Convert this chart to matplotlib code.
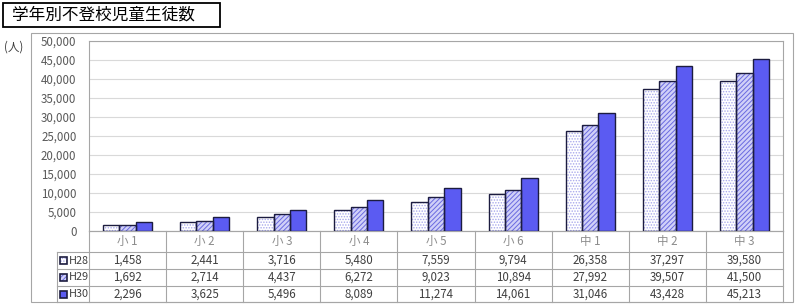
import matplotlib
matplotlib.use("Agg")
import matplotlib.pyplot as plt
from matplotlib.patches import Rectangle
import numpy as np

plt.rcParams['font.family'] = ['Noto Sans CJK JP', 'DejaVu Sans']
plt.rcParams['hatch.linewidth'] = 0.7

title = "学年別不登校児童生徒数"
unit = "(人)"
categories = ["小 1", "小 2", "小 3", "小 4", "小 5", "小 6", "中 1", "中 2", "中 3"]
series_names = ["H28", "H29", "H30"]
h28 = [1458, 2441, 3716, 5480, 7559, 9794, 26358, 37297, 39580]
h29 = [1692, 2714, 4437, 6272, 9023, 10894, 27992, 39507, 41500]
h30 = [2296, 3625, 5496, 8089, 11274, 14061, 31046, 43428, 45213]
series = [h28, h29, h30]
yticks = [0, 5000, 10000, 15000, 20000, 25000, 30000, 35000, 40000, 45000, 50000]

styles = [
    dict(face="white", hatch="......", hcolor="#A8A8EC"),
    dict(face="#D0D0F8", hatch="///////", hcolor="#6A6AE0"),
    dict(face="#5B5BF2", hatch=None, hcolor="#5B5BF2"),
]
edge = "#1C1C40"

W, H = 800, 307
fig = plt.figure(figsize=(8, 3.07), dpi=100)

# overlay in pixel coordinates
ov = fig.add_axes([0, 0, 1, 1], zorder=0)
ov.set_xlim(0, W)
ov.set_ylim(H, 0)
ov.axis("off")

# plot area geometry in pixels
L, R, T, B = 89, 783, 41, 231
ax = fig.add_axes([L / W, (H - B) / H, (R - L) / W, (B - T) / H], zorder=1)
ax.set_facecolor("none")

n = len(categories)
x = np.arange(n) + 0.5
bw = 0.212
for i, (vals, st) in enumerate(zip(series, styles)):
    pos = x + (i - 1) * bw
    ax.bar(pos, vals, width=bw, color=st["face"], hatch=st["hatch"],
           edgecolor=st["hcolor"], linewidth=0, zorder=2)
    ax.bar(pos, vals, width=bw, fill=False, edgecolor=edge, linewidth=1.0, zorder=3)

ax.set_xlim(0, n)
ax.set_ylim(0, 50000)
ax.set_yticks(yticks)
ax.set_yticklabels([f"{v:,}" for v in yticks], fontsize=8.3, color="#595959")
ax.tick_params(axis="y", length=0, pad=9)
ax.set_xticks([])
ax.grid(axis="y", color="#D9D9D9", linewidth=0.8, zorder=0)
for s in ax.spines.values():
    s.set_color("#A6A6A6")
    s.set_linewidth(0.8)

# title box
ov.add_patch(Rectangle((3, 3), 217, 24, fill=False, edgecolor="black", linewidth=1.3))
ov.text(12, 15.5, title, fontsize=12, va="center", ha="left", color="black")

# outer chart border
ov.add_patch(Rectangle((31, 33), 762, 269, fill=False, edgecolor="#A6A6A6", linewidth=0.8))
ov.text(14, 47, unit, fontsize=8.3, va="center", ha="center", color="#404040")

# data table
grid_c = "#A6A6A6"
rows_y = [231, 252, 269, 286, 302]
leg_l = 57
cw = (R - L) / n
ov.plot([L, R], [rows_y[0], rows_y[0]], color=grid_c, lw=0.8)
for yy in rows_y[1:]:
    ov.plot([leg_l, R], [yy, yy], color=grid_c, lw=0.8)
for j in range(n + 1):
    xx = L + j * cw
    ov.plot([xx, xx], [rows_y[0], rows_y[-1]], color=grid_c, lw=0.8)
ov.plot([leg_l, leg_l], [rows_y[1], rows_y[-1]], color=grid_c, lw=0.8)

for j, c in enumerate(categories):
    ov.text(L + (j + 0.5) * cw, (rows_y[0] + rows_y[1]) / 2, c, fontsize=8.3,
            ha="center", va="center", color="#8C8C8C")

for i, (name, vals, st) in enumerate(zip(series_names, series, styles)):
    yc = (rows_y[i + 1] + rows_y[i + 2]) / 2
    ov.add_patch(Rectangle((60, yc - 3.5), 7, 7, facecolor=st["face"], hatch=st["hatch"],
                           edgecolor=st["hcolor"], linewidth=0))
    ov.add_patch(Rectangle((60, yc - 3.5), 7, 7, fill=False, edgecolor=edge, linewidth=1.2))
    ov.text(69, yc, name, fontsize=7.8, ha="left", va="center", color="#404040")
    for j, v in enumerate(vals):
        ov.text(L + (j + 0.5) * cw, yc, f"{v:,}", fontsize=8.3, ha="center",
                va="center", color="#404040")

fig.savefig("out.png", dpi=100)
